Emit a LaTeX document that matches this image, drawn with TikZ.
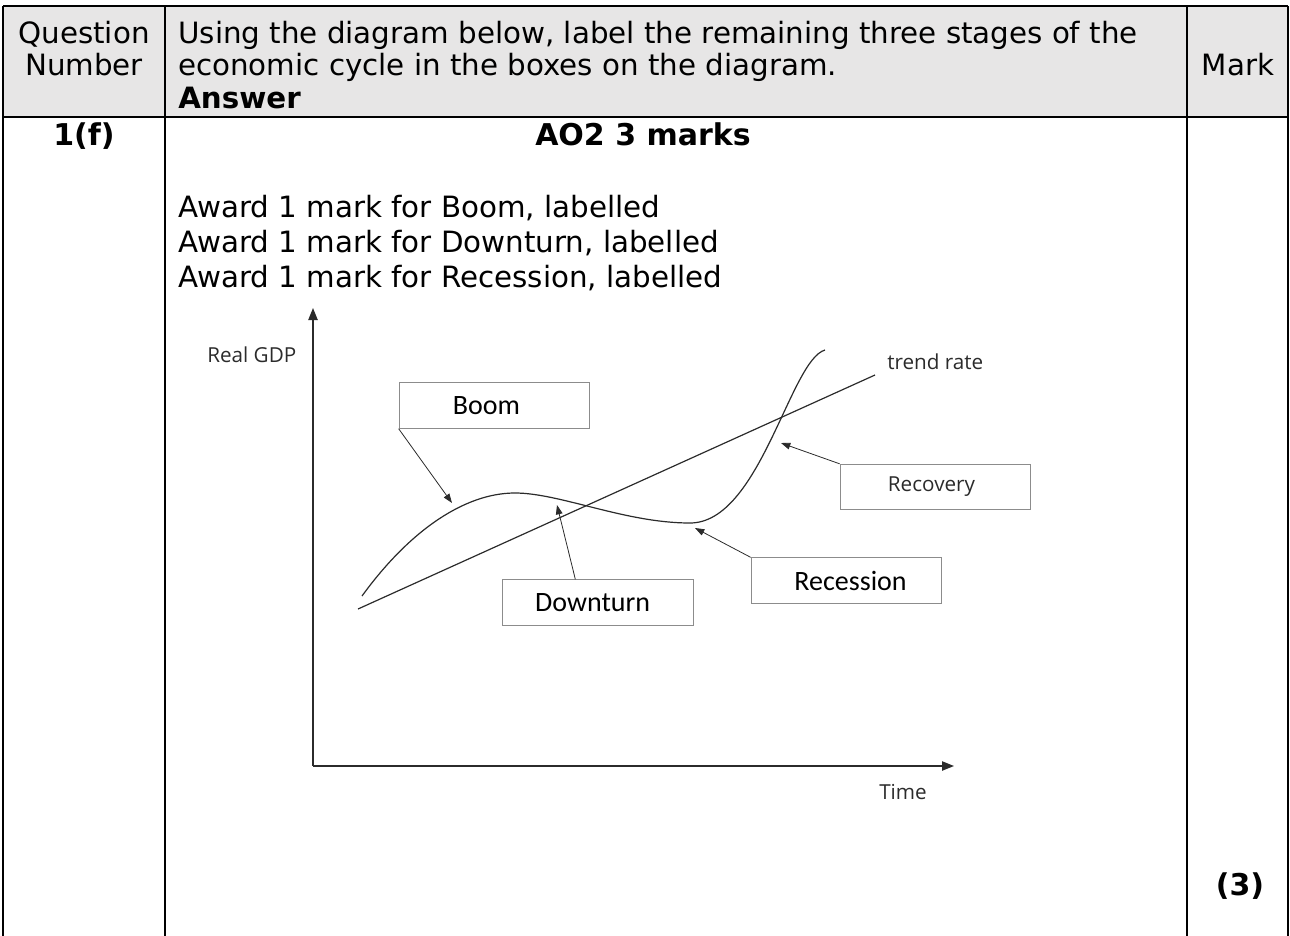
\documentclass[tikz,border=0pt]{standalone}
\usepackage{fontspec}
\setmainfont{DejaVu Sans}
\newfontfamily\boxfont{Carlito}
\newfontfamily\plotfont{Open Sans}
\usetikzlibrary{arrows.meta,positioning}
\definecolor{headfill}{HTML}{E7E6E6}
\definecolor{boxline}{HTML}{8C8C8C}
\definecolor{plotink}{HTML}{2B2B2B}

\begin{document}
\begin{tikzpicture}[x=0.75pt, y=-0.75pt,
  rule/.style={line width=1.5pt, black},
  headtxt/.style={font=\fontsize{22}{26}\selectfont, inner sep=0pt, anchor=base west},
  boldtxt/.style={font=\fontsize{22.5}{26}\selectfont\bfseries, inner sep=0pt, anchor=base},
  stagebox/.style={draw=boxline, line width=0.8pt, minimum width=143pt, minimum height=34pt, inner sep=0pt, font=\boxfont\fontsize{21}{24}\selectfont},
  plotlbl/.style={font=\plotfont\fontsize{15.5}{18}\selectfont, text=plotink, inner sep=0pt, anchor=base west},
  arr/.style={-{Triangle[length=7pt, width=5pt]}, draw=plotink, line width=0.6pt},
  axis/.style={-{Triangle[length=9pt, width=7pt]}, draw=plotink, line width=1pt}
]
\useasboundingbox (0,0) rectangle (1290,936);
% table frame
\fill[headfill] (3,6) rectangle (1288,117);
\draw[rule] (3,6) -- (1288,6);
\draw[rule] (3,117) -- (1288,117);
\draw[rule] (3,6) -- (3,936);
\draw[rule] (165,6) -- (165,936);
\draw[rule] (1187,6) -- (1187,936);
\draw[rule] (1288,6) -- (1288,936);
% header row
\node[headtxt, anchor=base] (q1) at (84,43) {Question};
\node[headtxt, anchor=base] (q2) at (84,75) {Number};
\node[headtxt] (t1) at (178,43) {Using the diagram below, label the remaining three stages of the};
\node[headtxt] (t2) at (178,75) {economic cycle in the boxes on the diagram.};
\node[headtxt, font=\fontsize{22}{26}\selectfont\bfseries] (ans) at (178,108) {Answer};
\node[headtxt, anchor=base] (mark) at (1238,75) {Mark};
% answer row
\node[boldtxt] (num) at (84,145) {1(f)};
\node[boldtxt] (ao) at (643,145) {AO2 3 marks};
\node[headtxt] (aw1) at (178,217) {Award 1 mark for Boom, labelled};
\node[headtxt] (aw2) at (178,252) {Award 1 mark for Downturn, labelled};
\node[headtxt] (aw3) at (178,287) {Award 1 mark for Recession, labelled};
\node[boldtxt] (tot) at (1240,895) {(3)};
% axes
\coordinate (o) at (313,766);
\coordinate (ytop) at (313,308);
\coordinate (xend) at (954,766);
\draw[axis] (o) -- (ytop);
\draw[axis] (o) -- (xend);
\node[plotlbl] (gdp) at (207,362) {Real GDP};
\node[plotlbl] (time) at (879,799) {Time};
% trend and cycle
\coordinate (ts) at (358,609);
\coordinate (te) at (875,375);
\draw[draw=plotink, line width=0.9pt] (ts) -- (te);
\node[plotlbl] (trend) at (887,369) {trend rate};
\coordinate (c0) at (362,596);
\coordinate (peak) at (515,493);
\coordinate (trough) at (690,523);
\coordinate (c3) at (825,350);
\draw[draw=plotink, line width=0.9pt] (c0) .. controls (410,530) and (465,493) .. (peak)
  .. controls (560,493) and (625,523) .. (trough)
  .. controls (760,523) and (790,360) .. (c3);
% stage boxes
\node[stagebox] (boom) at (494.5,405.5) {\hspace*{-12pt}Boom};
\node[stagebox] (down) at (598,602.5) {\hspace*{-8pt}Downturn};
\node[stagebox] (recov) at (935.5,487) {\plotfont\fontsize{15.5}{18}\selectfont\color{plotink}\hspace*{-6pt}Recovery};
\node[stagebox] (recess) at (846.5,580.5) {\hspace*{6pt}Recession};
\coordinate (boomtip) at (452,503);
\coordinate (downtip) at (557,505);
\coordinate (recovtip) at (781,443);
\coordinate (recesstip) at (695,528);
\draw[arr] (boom.south west) -- (boomtip);
\draw[arr] ([xshift=-17pt]down.north) -- (downtip);
\draw[arr] (recov.north west) -- (recovtip);
\draw[arr] (recess.north west) -- (recesstip);
\end{tikzpicture}
\end{document}
